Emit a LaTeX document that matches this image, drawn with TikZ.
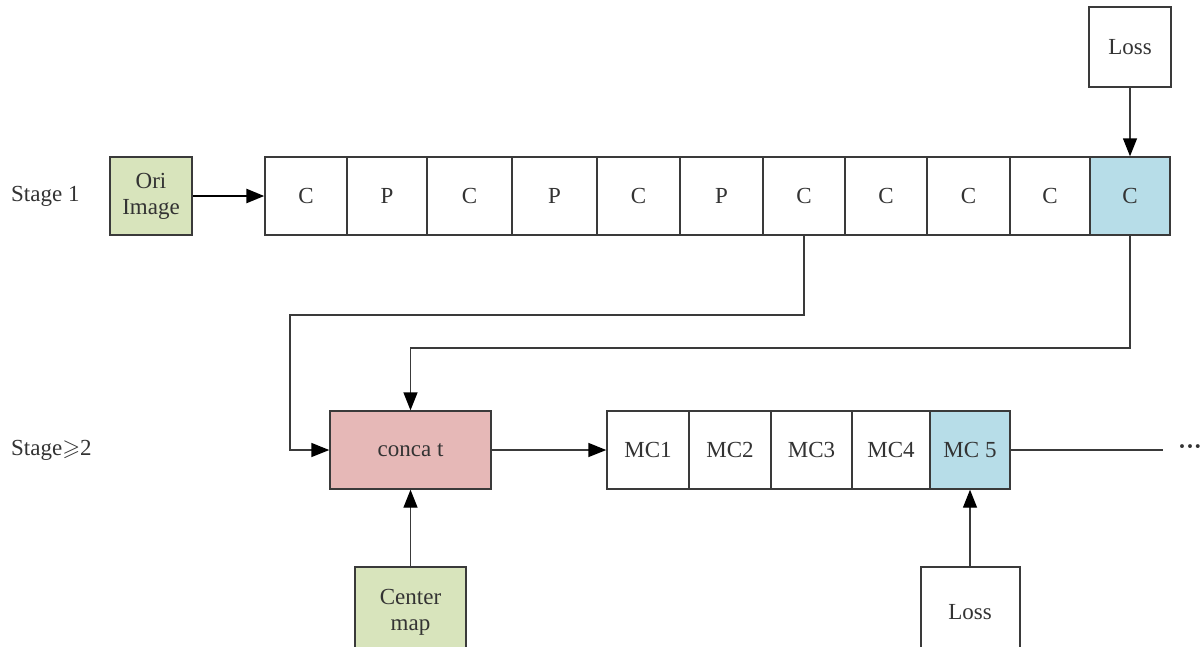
\documentclass[tikz,border=0pt]{standalone}
\usepackage{amssymb}
\usepackage{fontspec}
\setmainfont{Liberation Serif}
\usetikzlibrary{arrows.meta}
\definecolor{boxgreen}{HTML}{D8E4BC}
\definecolor{boxpink}{HTML}{E6B8B7}
\definecolor{boxblue}{HTML}{B7DDE8}
\definecolor{txt}{HTML}{333333}
\definecolor{edge}{HTML}{3A3A3A}
\begin{document}
\begin{tikzpicture}[x=1pt,y=-1pt,
  every node/.style={font=\fontsize{23}{26}\selectfont, text=txt},
  cell/.style={draw=edge, line width=1.4pt, fill=white, inner sep=0pt, minimum height=78pt, align=center},
  lab/.style={anchor=west, inner sep=0pt},
  conn/.style={draw=edge, line width=1.4pt},
  arr/.style={conn, -{Triangle[length=18pt,width=14pt,color=black]}},
  tarr/.style={draw=black, line width=2.6pt, -{Triangle[length=18pt,width=14pt]}}]
\useasboundingbox (0,0) rectangle (1202,646);
\clip (0,0) rectangle (1202,646);
% Stage 1 row
\node[lab] (st1) at (11,196) {Stage 1};
\node[cell, fill=boxgreen, minimum width=82pt] (ori) at (151,196) {Ori\\Image};
\foreach \i/\a/\b/\t in {1/265/347/C,2/347/427/P,3/427/512/C,4/512/597/P,5/597/680/C,6/680/763/P,7/763/845/C,8/845/927/C,9/927/1010/C,10/1010/1090/C}{
  \node[cell, minimum width={\b-\a}] (s\i) at ({(\a+\b)/2},196) {\t};
}
\node[cell, fill=boxblue, minimum width=80pt] (s11) at (1130,196) {C};
\node[cell, minimum width=82pt, minimum height=80pt] (loss1) at (1130,47) {Loss};
% Stage 2 row
\node[lab] (st2) at (11,450) {Stage$\geqslant$2};
\node[cell, fill=boxpink, minimum width=161pt] (concat) at (410.5,450) {conca t};
\foreach \i/\a/\b in {1/607/689,2/689/771,3/771/852,4/852/930}{
  \node[cell, minimum width={\b-\a}] (m\i) at ({(\a+\b)/2},450) {MC\i};
}
\node[cell, fill=boxblue, minimum width=80pt] (m5) at (970,450) {MC 5};
\node[cell, fill=boxgreen, minimum width=111pt, minimum height=90pt] (center) at (410.5,612) {Center\\map};
\node[cell, minimum width=99pt, minimum height=90pt, line width=2pt] (loss2) at (970,612) {Loss};
\node[inner sep=0pt, font=\fontsize{24}{24}\selectfont\bfseries] (dots) at (1190,450) {···};
\coordinate (e1) at (1163,450);
\coordinate (k1) at (290,315);
\coordinate (k2) at (410.5,348);
% connectors
\draw[tarr] (ori.east) -- (s1.west);
\draw[arr] (loss1.south) -- (s11.north);
\draw[arr] (s7.south) |- (k1) |- (concat.west);
\draw[arr] (s11.south) |- (k2) -- (concat.north);
\draw[arr] (center.north) -- (concat.south);
\draw[arr] (concat.east) -- (m1.west);
\draw[arr] (loss2.north) -- (m5.south);
\draw[conn] (m5.east) -- (e1);
\end{tikzpicture}
\end{document}
